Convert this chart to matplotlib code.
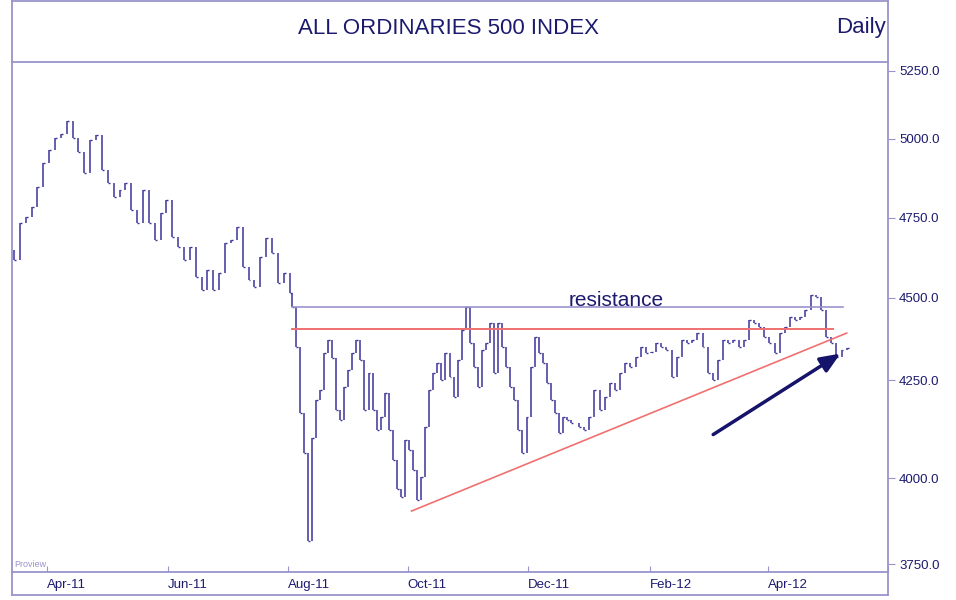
import numpy as np
import pandas as pd
import matplotlib
matplotlib.use("Agg")
import matplotlib.pyplot as plt
from matplotlib.lines import Line2D

# three stretches of the daily series with their first and last dates
seg1_dates = ("2011-03-15", "2011-08-02")
seg1 = [4619, 4734, 4753, 4784, 4848, 4924, 4965, 5003, 5019, 5066, 5003, 4959, 4892, 4997,
        5013, 4902, 4861, 4816, 4838, 4861, 4775, 4734, 4838, 4734, 4681, 4766, 4807, 4690,
        4659, 4619, 4659, 4566, 4525, 4588, 4525, 4578, 4671, 4681, 4722, 4597, 4556, 4534,
        4628, 4687, 4640, 4547, 4578, 4516]
seg2_dates = ("2011-08-03", "2011-12-23")
seg2 = [4473, 4350, 4166, 4064, 3816, 4102, 4199, 4224, 4332, 4372, 4317, 4173, 4148, 4232,
        4280, 4332, 4372, 4311, 4173, 4271, 4173, 4122, 4155, 4217, 4122, 4046, 3969, 3944,
        4097, 4071, 4020, 3936, 4003, 4130, 4224, 4271, 4302, 4250, 4332, 4259, 4207, 4311,
        4402, 4473, 4362, 4290, 4232, 4342, 4362, 4423, 4271, 4423, 4350, 4290, 4232, 4199,
        4122, 4064, 4155, 4290, 4381, 4332, 4302, 4242, 4199, 4166, 4115, 4155, 4148, 4140]
seg3_dates = ("2011-12-27", "2012-05-11")
seg3 = [4130, 4122, 4155, 4224, 4173, 4207, 4242, 4224, 4271, 4302, 4290, 4320, 4350, 4332,
        4335, 4362, 4350, 4342, 4259, 4320, 4372, 4362, 4372, 4393, 4350, 4271, 4250, 4311,
        4372, 4362, 4372, 4350, 4372, 4433, 4423, 4411, 4381, 4362, 4332, 4393, 4411, 4442,
        4433, 4442, 4463, 4509, 4503, 4463, 4381, 4362, 4320, 4342, 4347]

ytick_vals = [3750, 4000, 4250, 4500, 4750, 5000, 5250]
ytick_pix = [564, 478, 380, 298, 218, 139, 71]
month_ticks = ["2011-04-01", "2011-06-01", "2011-08-01", "2011-10-01", "2011-12-01",
               "2012-02-01", "2012-04-01", "2012-06-01"]
month_labels = ["Apr-11", "Jun-11", "Aug-11", "Oct-11", "Dec-11", "Feb-12", "Apr-12", ""]

resistance_blue = 4473
resistance_red = 4405
lines_start = "2011-08-03"
blue_end, red_end = "2012-05-09", "2012-05-04"
trend_dates = ["2011-10-03", "2012-05-11"]
trend_vals = [3904, 4393]
arrow_dates = ["2012-03-03", "2012-05-09"]
arrow_vals = [4107, 4335]

BAR = "#3b3398"
FRAME = "#9a94cc"
TXT = "#1c1a6e"
RED = "#f07070"

W, H = 956, 600
fig = plt.figure(figsize=(W / 100, H / 100), dpi=100)
L, R, T, B = 12, 888, 62, 572
ax = fig.add_axes([L / W, 1 - B / H, (R - L) / W, (B - T) / H])

vp = np.array([3650] + ytick_vals + [5350], float)
pp = np.array([564 + 100 / 2.9] + ytick_pix + [71 - 100 / 3.16], float)
def fwd(v):
    return -np.interp(v, vp, pp)
def inv(p):
    return np.interp(p, -pp, vp)
ax.set_yscale("function", functions=(fwd, inv))
ax.set_ylim(inv(-B), inv(-T))

dates = pd.DatetimeIndex([])
for (d0, d1), seg in ((seg1_dates, seg1), (seg2_dates, seg2), (seg3_dates, seg3)):
    dates = dates.append(pd.date_range(d0, d1, periods=len(seg)))
c = np.array(seg1 + seg2 + seg3, float)
prev = np.concatenate([[c[0] + 30], c[:-1]])
lo = np.minimum(prev, c)
hi = np.maximum(prev, c)
ax.vlines(dates, lo, hi, color=BAR, lw=1.1)
dd = pd.Timedelta(days=1)
ax.hlines(c, dates, dates + dd, color=BAR, lw=1.0)

ls = pd.Timestamp(lines_start)
ax.plot([ls, pd.Timestamp(blue_end)], [resistance_blue] * 2, color=FRAME, lw=1.2)
ax.plot([ls, pd.Timestamp(red_end)], [resistance_red] * 2, color=RED, lw=1.4)
ax.plot(pd.to_datetime(trend_dates), trend_vals, color=RED, lw=1.2)
ad = pd.to_datetime(arrow_dates)
ax.annotate("", xy=(ad[1], arrow_vals[1]), xytext=(ad[0], arrow_vals[0]),
            arrowprops=dict(arrowstyle="-|>,head_length=1.2,head_width=0.5", color="#16136a", lw=2.5))
ax.text(pd.Timestamp("2011-12-22"), 4493, "resistance", fontsize=15, color=TXT,
        family="Liberation Sans", va="center")
ax.text(0.003, 0.005, "Proview", transform=ax.transAxes, fontsize=6.5, color=FRAME,
        family="Liberation Sans", va="bottom")

ax.set_xlim(pd.Timestamp("2011-03-14"), pd.Timestamp("2012-06-01"))
ax.set_xticks(pd.to_datetime(month_ticks))
ax.set_xticklabels(month_labels, ha="left", fontsize=9.5, color=TXT, family="Liberation Sans")
ax.tick_params(axis="x", direction="in", length=4, color=FRAME, pad=5)
ax.yaxis.tick_right()
ax.set_yticks(ytick_vals)
ax.set_yticklabels([f"{v:.1f}" for v in ytick_vals], fontsize=9.5, color=TXT, family="Liberation Sans")
ax.tick_params(axis="y", direction="out", length=5, color=FRAME, pad=3)
ax.minorticks_off()
for s in ax.spines.values():
    s.set_color(FRAME)
    s.set_linewidth(1.3)

def fl(x0, y0, x1, y1):
    fig.add_artist(Line2D([x0 / W, x1 / W], [1 - y0 / H, 1 - y1 / H], color=FRAME, lw=1.3))
fl(L, 1, R, 1)
fl(L, 1, L, T)
fl(R, 1, R, T)
fl(L, 595, R, 595)
fl(L, B, L, 595)
fl(R, B, R, 595)

fig.text(448 / W, 1 - 28 / H, "ALL ORDINARIES 500 INDEX", ha="center", va="center",
         fontsize=16, color=TXT, family="Liberation Sans")
fig.text(886 / W, 1 - 28 / H, "Daily", ha="right", va="center",
         fontsize=16, color=TXT, family="Liberation Sans")

fig.savefig("out.png", dpi=100)
